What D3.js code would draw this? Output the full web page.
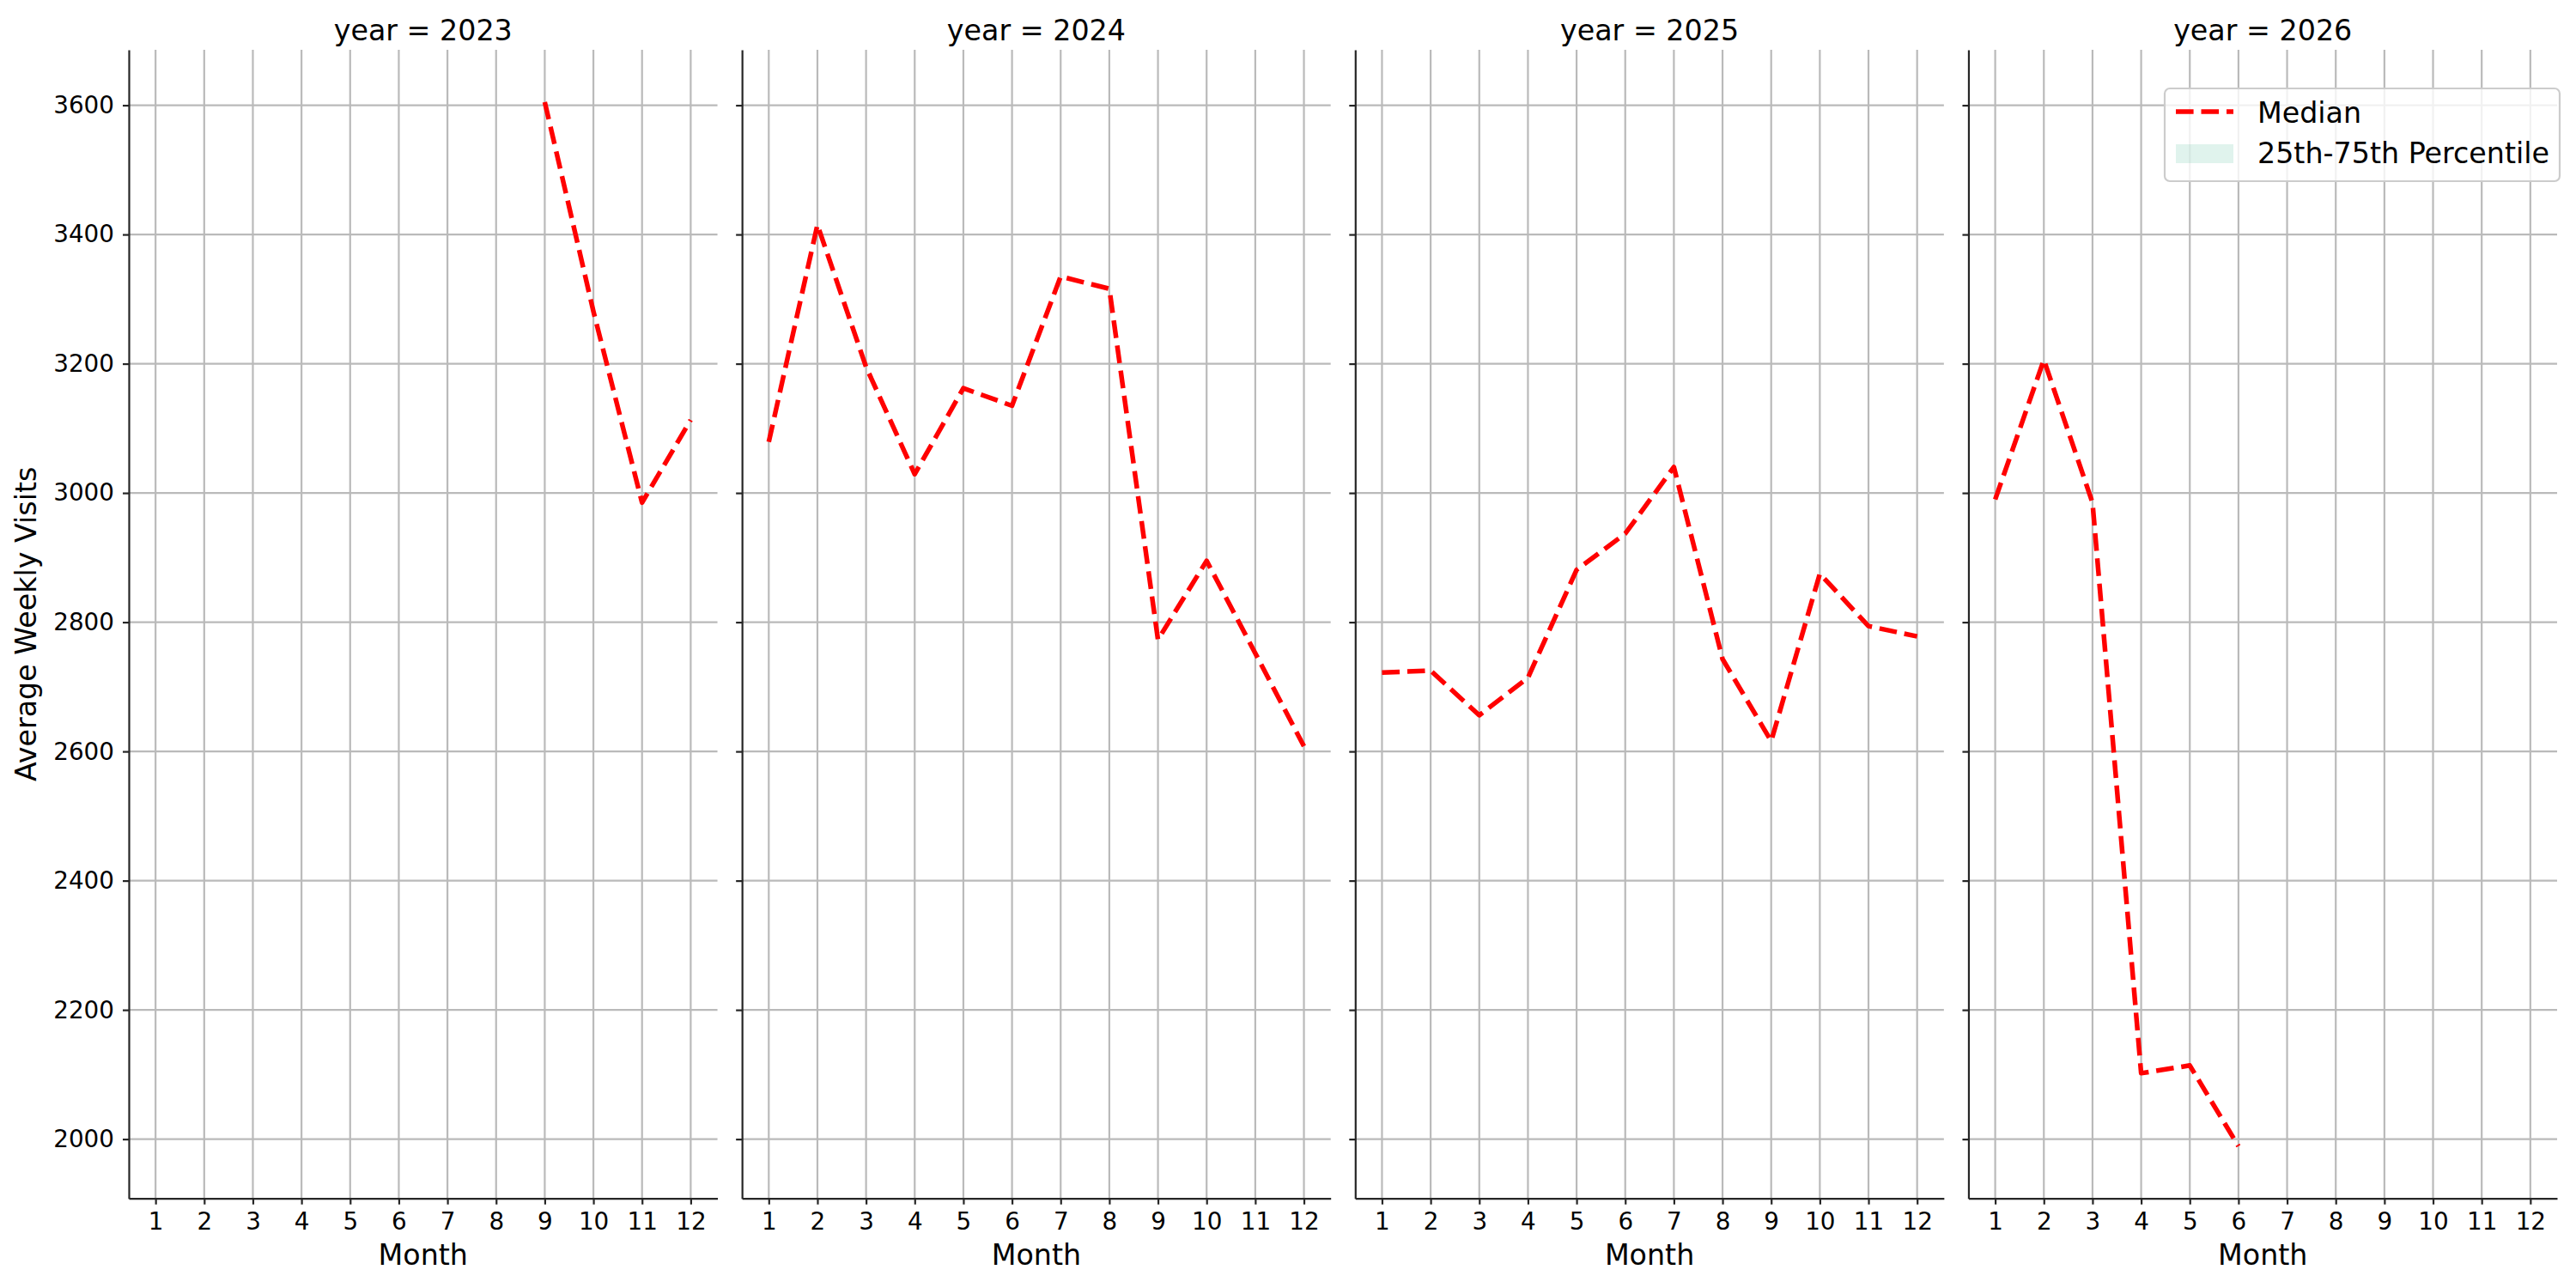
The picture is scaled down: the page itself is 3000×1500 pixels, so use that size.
<!DOCTYPE html>
<html>
<head>
<meta charset="utf-8">
<script src="https://cdn.jsdelivr.net/npm/d3@7"></script>
<style>
  body { margin: 0; background: #fff; }
  svg text { font-family: "DejaVu Sans", sans-serif; fill: #000; }
</style>
</head>
<body>
<div id="app"></div>
<script>
// chart data
const years = [2023, 2024, 2025, 2026];
const months = [1, 2, 3, 4, 5, 6, 7, 8, 9, 10, 11, 12];
const median2023 = [null, null, null, null, null, null, null, null, 3605, 3281, 2985, 3113];
const median2024 = [3079, 3415, 3195, 3029, 3162, 3135, 3335, 3316, 2773, 2895, 2752, 2608];
const median2025 = [2722, 2725, 2656, 2714, 2881, 2937, 3040, 2743, 2616, 2875, 2794, 2778];
const median2026 = [2990, 3206, 2985, 2102, 2114, 1989, null, null, null, null, null, null];
const yTicks = [2000, 2200, 2400, 2600, 2800, 3000, 3200, 3400, 3600];
const legendLabels = ['Median', '25th-75th Percentile'];

const medians = [median2023, median2024, median2025, median2026];

const width = 3000;
const height = 1500;
const margin = { top: 58, right: 22, bottom: 104.3, left: 150 };
const gap = 28.6;
const tickFont = 27.8;
const labelFont = 33.3;
const gridColor = '#bababa';
const spineColor = '#262626';
const lineColor = '#ff0000';
const bandColor = '#66c2a5';

const panelW = (width - margin.left - margin.right - gap * (years.length - 1)) / years.length;
const panelH = height - margin.top - margin.bottom;

const svg = d3.select('#app')
  .append('svg')
  .attr('width', width)
  .attr('height', height);

// shared y scale, padded 5% like matplotlib
const allVals = medians.flat().filter(v => v != null);
const [vMin, vMax] = d3.extent(allVals);
const pad = (vMax - vMin) * 0.05;
const yScale = d3.scaleLinear()
  .domain([vMin - pad, vMax + pad])
  .range([panelH, 0]);

const xScale = d3.scaleLinear()
  .domain([1 - 0.55, 12 + 0.55])
  .range([0, panelW]);

const line = d3.line()
  .defined(d => d.v != null)
  .x(d => xScale(d.m))
  .y(d => yScale(d.v));

years.forEach((year, i) => {
  const g = svg.append('g')
    .attr('transform', `translate(${margin.left + i * (panelW + gap)},${margin.top})`);

  // grid
  g.append('g').selectAll('line.h')
    .data(yTicks)
    .enter()
    .append('line')
    .attr('x1', 0)
    .attr('x2', panelW)
    .attr('y1', d => yScale(d))
    .attr('y2', d => yScale(d))
    .attr('stroke', gridColor)
    .attr('stroke-width', 2.2);

  g.append('g').selectAll('line.v')
    .data(months)
    .enter()
    .append('line')
    .attr('x1', d => xScale(d))
    .attr('x2', d => xScale(d))
    .attr('y1', 0)
    .attr('y2', panelH)
    .attr('stroke', gridColor)
    .attr('stroke-width', 2.2);

  // median line
  const pts = months.map((m, j) => ({ m, v: medians[i][j] }));
  g.append('path')
    .datum(pts)
    .attr('d', line)
    .attr('fill', 'none')
    .attr('stroke', lineColor)
    .attr('stroke-width', 5.5)
    .attr('stroke-dasharray', '20.6,8.9')
    .attr('stroke-linejoin', 'round');

  // axes
  const yAxis = d3.axisLeft(yScale)
    .tickValues(yTicks)
    .tickSize(7)
    .tickSizeOuter(0)
    .tickPadding(10)
    .tickFormat(i === 0 ? d3.format('d') : () => '');
  const yG = g.append('g').call(yAxis);

  const xAxis = d3.axisBottom(xScale)
    .tickValues(months)
    .tickSize(7)
    .tickSizeOuter(0)
    .tickPadding(10)
    .tickFormat(d3.format('d'));
  const xG = g.append('g')
    .attr('transform', `translate(0,${panelH})`)
    .call(xAxis);

  [yG, xG].forEach((ax) => {
    ax.attr('font-size', tickFont).attr('font-family', '"DejaVu Sans", sans-serif');
    ax.selectAll('path, line').attr('stroke', spineColor).attr('stroke-width', 2.2);
    ax.selectAll('text').attr('fill', '#000');
  });

  // title and x label
  g.append('text')
    .attr('x', panelW / 2)
    .attr('y', 47.3 - margin.top)
    .attr('text-anchor', 'middle')
    .attr('font-size', labelFont)
    .text(`year = ${year}`);

  g.append('text')
    .attr('x', panelW / 2)
    .attr('y', panelH + 77)
    .attr('text-anchor', 'middle')
    .attr('font-size', labelFont)
    .text('Month');
});

// y label
svg.append('text')
  .attr('transform', `translate(42,${margin.top + panelH / 2}) rotate(-90)`)
  .attr('text-anchor', 'middle')
  .attr('font-size', labelFont)
  .text('Average Weekly Visits');

// legend
const legend = svg.append('g').attr('transform', 'translate(2521,103)');
legend.append('rect')
  .attr('width', 460)
  .attr('height', 108)
  .attr('rx', 6)
  .attr('fill', '#fff')
  .attr('fill-opacity', 0.8)
  .attr('stroke', '#cccccc')
  .attr('stroke-width', 2.2);

legend.append('line')
  .attr('x1', 13)
  .attr('x2', 80)
  .attr('y1', 27)
  .attr('y2', 27)
  .attr('stroke', lineColor)
  .attr('stroke-width', 5.5)
  .attr('stroke-dasharray', '20.6,8.9');

legend.append('rect')
  .attr('x', 13)
  .attr('y', 65)
  .attr('width', 67)
  .attr('height', 22)
  .attr('fill', bandColor)
  .attr('fill-opacity', 0.2);

legend.selectAll('text.lab')
  .data(legendLabels)
  .enter()
  .append('text')
  .attr('x', 108)
  .attr('y', (d, i) => 39.7 + i * 47.3)
  .attr('font-size', labelFont)
  .text(d => d);
</script>
</body>
</html>
